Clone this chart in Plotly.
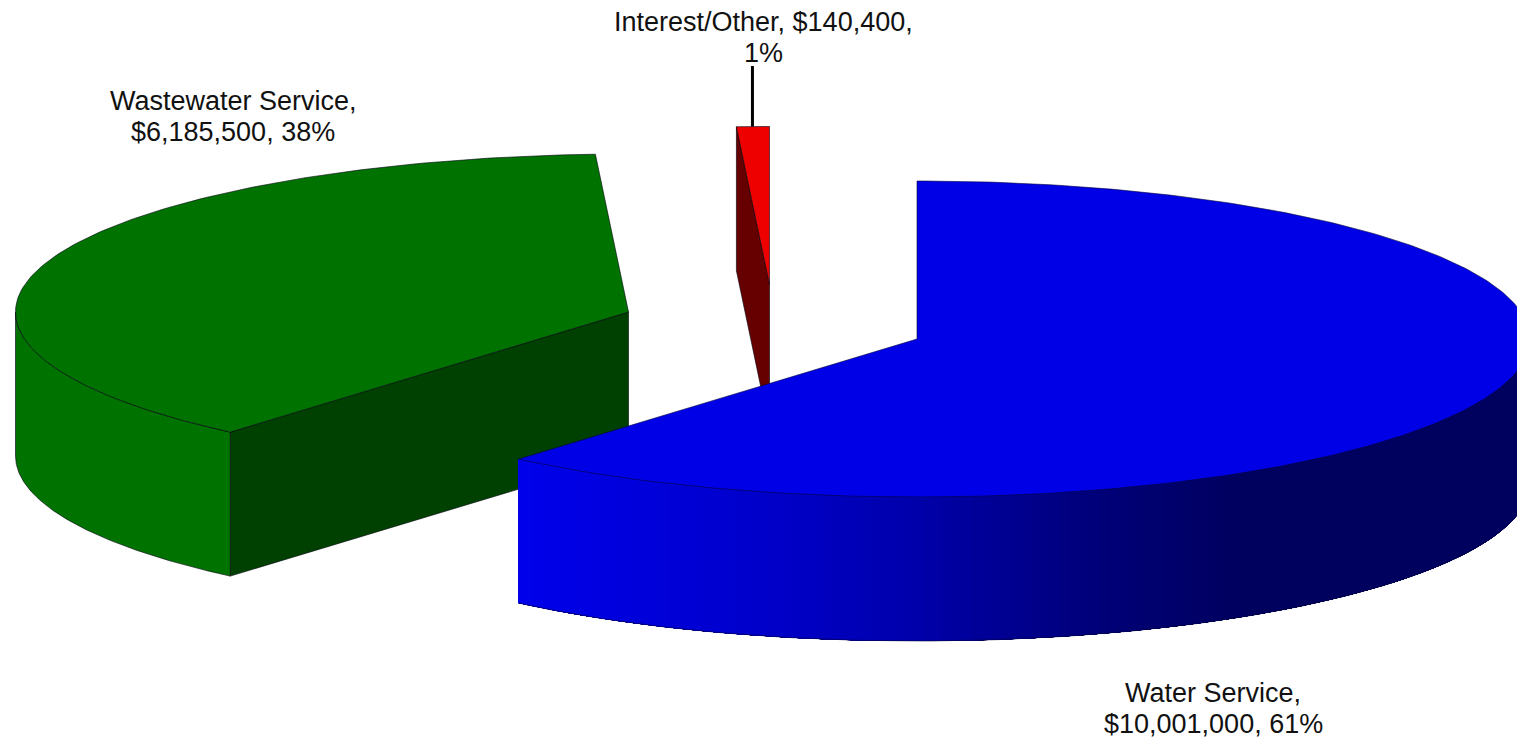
import numpy as np
import plotly.graph_objects as go

categories = ["Water Service", "Wastewater Service", "Interest/Other"]
values = [10001000, 6185500, 140400]
labels = [
    "Water Service,<br>$10,001,000, 61%",
    "Wastewater Service,<br>$6,185,500, 38%",
    "Interest/Other, $140,400,<br>1%",
]

# style / layout of the projected pie
centers = [(917, 339), (628.5, 312), (769.5, 284.5)]
label_pos = [(1213, 708), (233, 116), (763, 37)]
LINE_STEP = 31
RX, RY, DEPTH = 613, 158, 144
top_colors = ["#0000e6", "#007200", "#ee0000"]
side_colors = ["#000060", "#007200", "#660000"]
inner_colors = ["#000060", "#004000", "#660000"]
EDGE = "#00000f"
W, H = 1517, 739

total = sum(values)
ends = np.cumsum(values) / total * 360.0
starts = np.r_[0.0, ends[:-1]]


def px(c, deg):
    t = np.radians(deg)
    return c[0] + RX * np.sin(t), c[1] - RY * np.cos(t)


def arc(c, a, b, n=160):
    return px(c, np.linspace(a, b, n))


def poly(xs, ys, fill, line=None, width=0.6):
    return go.Scatter(
        x=list(xs) + [xs[0]], y=list(ys) + [ys[0]], mode="lines", fill="toself",
        fillcolor=fill, line=dict(color=line or fill, width=width),
        hoverinfo="skip", showlegend=False,
    )


def blue_at(x):
    b = np.interp(x, [517, 780, 916, 1100, 1250], [235, 200, 170, 120, 94])
    return f"rgb(0,0,{int(round(b))})"


fig = go.Figure()

# Wastewater: inner face, outer wall, top
c = centers[1]
a, b = starts[1], ends[1]
ox, oy = px(c, a)
fig.add_trace(poly([c[0], ox, ox, c[0]], [c[1], oy, oy + DEPTH, c[1] + DEPTH], inner_colors[1], EDGE))
xs, ys = arc(c, a, 270)
fig.add_trace(poly(np.r_[xs, xs[::-1]], np.r_[ys, ys[::-1] + DEPTH], side_colors[1], EDGE))
xs, ys = arc(c, a, b)
fig.add_trace(poly(np.r_[c[0], xs], np.r_[c[1], ys], top_colors[1], EDGE))

# Interest/Other: inner face, top
c = centers[2]
a, b = starts[2], ends[2]
ox, oy = px(c, a)
fig.add_trace(poly([ox, c[0], c[0], ox], [oy, c[1], c[1] + DEPTH, oy + DEPTH], inner_colors[2], EDGE))
xs, ys = arc(c, a, b, 12)
fig.add_trace(poly(np.r_[c[0], xs], np.r_[c[1], ys], top_colors[2], EDGE))

# Water: outer wall shaded by nested fills (dark first, each one overlapping the last)
c = centers[0]
a, b = starts[0], ends[0]
edges = np.linspace(90, b, 141)
for t0, t1 in zip(edges[:-1], edges[1:]):
    xs, ys = arc(c, t0, b, 60)
    col = blue_at(px(c, (t0 + t1) / 2)[0])
    fig.add_trace(go.Scatter(
        x=np.r_[xs, xs[::-1], xs[0]], y=np.r_[ys, ys[::-1] + DEPTH, ys[0]], mode="lines",
        fill="toself", fillcolor=col, line=dict(width=0), hoverinfo="skip", showlegend=False,
    ))
xs, ys = arc(c, 90, b)
fig.add_trace(go.Scatter(x=xs, y=ys + DEPTH, mode="lines", line=dict(color="#000040", width=0.6),
                         hoverinfo="skip", showlegend=False))
xs, ys = arc(c, a, b, 300)
fig.add_trace(poly(np.r_[c[0], xs], np.r_[c[1] + 0.0, ys], top_colors[0], "#00003c"))

# leader line of the small slice
mid_x, top_y = px(centers[2], (starts[2] + ends[2]) / 2)
fig.add_trace(go.Scatter(x=[mid_x - 0.5, mid_x - 0.5], y=[top_y, 66], mode="lines",
                         line=dict(color="#000000", width=3), hoverinfo="skip", showlegend=False))

for text, (lx, ly) in zip(labels, label_pos):
    parts = text.split("<br>")
    for i, part in enumerate(parts):
        fig.add_annotation(x=lx, y=ly + (i - (len(parts) - 1) / 2) * LINE_STEP, text=part,
                           showarrow=False, xanchor="center", yanchor="middle",
                           font=dict(family="Liberation Sans, Arial, sans-serif", size=27, color="#111111"))

fig.update_layout(
    width=W, height=H, margin=dict(l=0, r=0, t=0, b=0),
    paper_bgcolor="white", plot_bgcolor="white", showlegend=False,
    xaxis=dict(range=[0, W], visible=False, fixedrange=True),
    yaxis=dict(range=[H, 0], visible=False, fixedrange=True),
)
fig.write_html("out.html", config={"displayModeBar": False},
               post_script="document.body.style.margin='0';document.body.style.overflow='hidden';")
